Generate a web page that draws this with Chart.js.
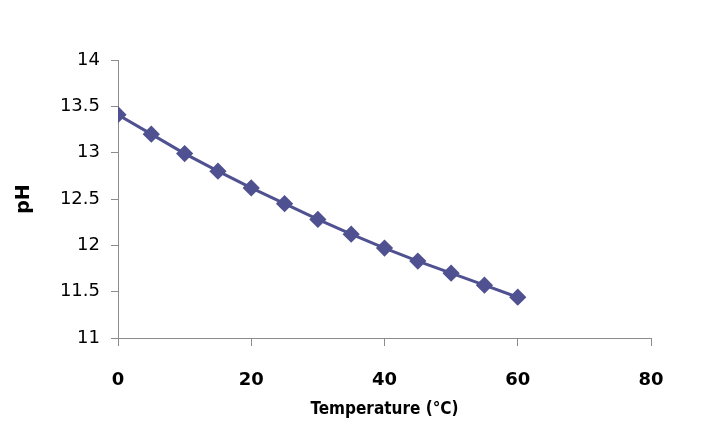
<!DOCTYPE html>
<html>
<head>
<meta charset="utf-8">
<script src="https://cdn.jsdelivr.net/npm/chart.js@4"></script>
<style>
  html, body { margin: 0; padding: 0; background: #fff; }
  #wrap { width: 701px; height: 426px; }
</style>
</head>
<body>
<div id="wrap"><canvas id="chart" width="701" height="426"></canvas></div>
<script>
// temperature (°C) and measured pH
const temps = [0, 5, 10, 15, 20, 25, 30, 35, 40, 45, 50, 55, 60];
const phValues = [13.41, 13.20, 12.99, 12.80, 12.62, 12.45, 12.28, 12.12, 11.97, 11.83, 11.70, 11.57, 11.44];
const xTicks = [0, 20, 40, 60, 80];
const yTicks = [11, 11.5, 12, 12.5, 13, 13.5, 14];

const points = temps.map((t, i) => ({ x: t, y: phValues[i] }));
const axisGray = '#8c8c8c';
const lineColor = '#4f5191';

const ctx = document.getElementById('chart').getContext('2d');
new Chart(ctx, {
  type: 'line',
  data: {
    datasets: [{
      label: 'pH',
      data: points,
      borderColor: lineColor,
      backgroundColor: lineColor,
      borderWidth: 3,
      pointStyle: 'rectRot',
      pointRadius: 6.5,
      pointHoverRadius: 6.5,
      tension: 0
    }]
  },
  options: {
    responsive: false,
    animation: false,
    layout: { padding: { left: 9, top: 60, right: 50, bottom: 6 } },
    plugins: { legend: { display: false }, tooltip: { enabled: false } },
    scales: {
      x: {
        type: 'linear',
        min: 0, max: 80,
        afterBuildTicks: s => { s.ticks = xTicks.map(v => ({ value: v })); },
        afterFit: s => { s.height = 82; },
        grid: { display: true, drawOnChartArea: false, drawTicks: true, tickLength: 8, tickColor: axisGray },
        border: { display: true, color: axisGray, width: 1 },
        ticks: { color: '#000', padding: 24, callback: v => String(v), font: { family: 'DejaVu Sans', size: 18, weight: 'bold' } },
        title: { display: true, text: 'Temperature (°C)', color: '#000', padding: { top: 0, bottom: 0 }, font: { family: 'DejaVu Sans Condensed', size: 17, weight: 'bold' } }
      },
      y: {
        min: 11, max: 14,
        afterBuildTicks: s => { s.ticks = yTicks.map(v => ({ value: v })); },
        afterFit: s => { s.width = 109; },
        grid: { display: true, drawOnChartArea: false, drawTicks: true, tickLength: 7, tickColor: axisGray },
        border: { display: true, color: axisGray, width: 1 },
        ticks: { color: '#000', padding: 11, callback: v => String(v), font: { family: 'DejaVu Sans', size: 18 } },
        title: { display: true, text: 'pH', color: '#000', padding: { bottom: 4 }, font: { family: 'DejaVu Sans', size: 19, weight: 'bold' } }
      }
    }
  }
});
</script>
</body>
</html>
